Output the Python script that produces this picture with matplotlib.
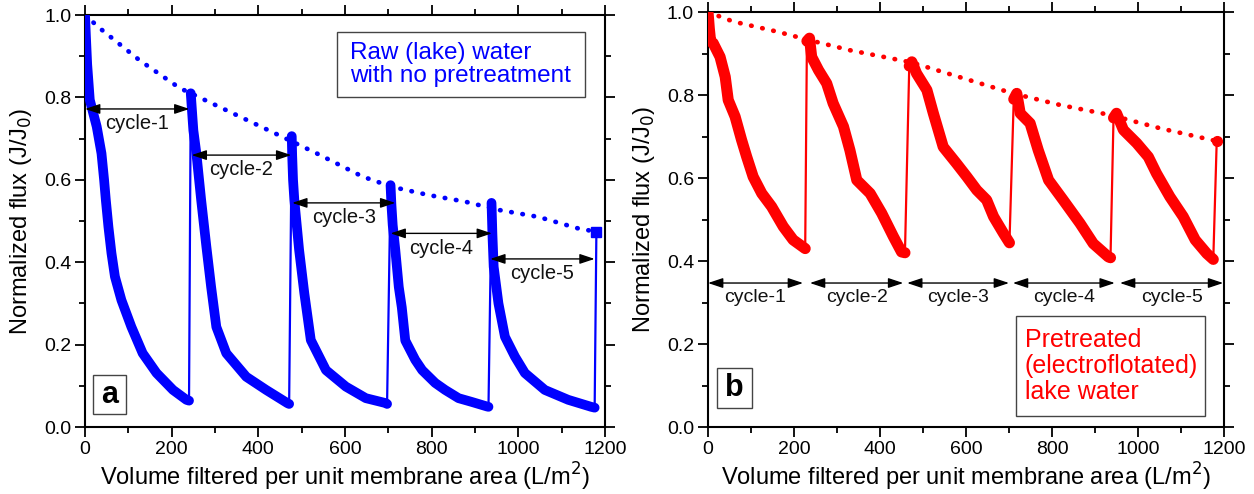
import matplotlib
matplotlib.use("Agg")
from matplotlib import pyplot as plt
from matplotlib.patches import Rectangle
from matplotlib.ticker import MultipleLocator, FormatStrFormatter

plt.rcParams['font.family'] = ['Liberation Sans', 'DejaVu Sans']

# panel a: raw lake water, five filtration cycles
a_x = [
    [0, 2, 5, 11, 27, 38, 44, 48, 54, 61, 69, 84, 107, 133, 165, 203, 234, 240],
    [244, 246, 250, 257, 268, 280, 291, 303, 326, 372, 418, 467, 471],
    [477, 478, 480, 483, 494, 506, 521, 556, 602, 648, 694, 697],
    [705, 707, 710, 716, 724, 731, 739, 762, 778, 808, 831, 862, 892, 927, 931],
    [938, 940, 943, 954, 969, 992, 1015, 1061, 1115, 1168, 1176],
]
a_y = [
    [1.0, 0.95, 0.88, 0.794, 0.729, 0.664, 0.60, 0.551, 0.486, 0.422, 0.365, 0.308, 0.243, 0.179, 0.131, 0.090, 0.066, 0.064],
    [0.81, 0.78, 0.72, 0.664, 0.551, 0.438, 0.34, 0.243, 0.179, 0.122, 0.09, 0.058, 0.056],
    [0.706, 0.66, 0.60, 0.551, 0.43, 0.325, 0.211, 0.138, 0.098, 0.07, 0.058, 0.056],
    [0.587, 0.54, 0.49, 0.43, 0.34, 0.29, 0.21, 0.163, 0.138, 0.107, 0.09, 0.07, 0.061, 0.05, 0.049],
    [0.544, 0.47, 0.389, 0.30, 0.219, 0.171, 0.131, 0.09, 0.066, 0.049, 0.047],
]
a_last = (1180, 0.474)
a_env_x = [0, 34, 126, 218, 326, 432, 533, 640, 708, 793, 877, 954, 1046, 1138, 1180]
a_env_y = [1.0, 0.968, 0.89, 0.823, 0.769, 0.716, 0.665, 0.608, 0.583, 0.563, 0.547, 0.527, 0.51, 0.482, 0.474]
a_arrow_y = [0.772, 0.66, 0.544, 0.47, 0.408]
a_arrow_x0 = [0, 246, 478, 705, 935]
a_arrow_x1 = [241, 476, 716, 939, 1176]

# panel b: electroflotated lake water
b_x = [
    [0, 3, 6, 12, 28, 40, 47, 63, 78, 90, 105, 125, 148, 175, 198, 222, 226],
    [230, 236, 241, 257, 276, 291, 315, 330, 346, 377, 404, 431, 450, 458],
    [468, 474, 485, 509, 524, 547, 578, 602, 625, 648, 664, 687, 701],
    [711, 718, 726, 749, 768, 792, 826, 865, 896, 931, 936],
    [943, 950, 966, 997, 1024, 1043, 1074, 1105, 1133, 1160, 1175],
]
b_y = [
    [1.0, 0.96, 0.93, 0.925, 0.892, 0.844, 0.788, 0.748, 0.692, 0.651, 0.603, 0.563, 0.531, 0.483, 0.451, 0.433, 0.43],
    [0.93, 0.937, 0.892, 0.86, 0.828, 0.78, 0.724, 0.667, 0.595, 0.563, 0.515, 0.459, 0.422, 0.42],
    [0.87, 0.88, 0.852, 0.812, 0.756, 0.675, 0.635, 0.603, 0.571, 0.547, 0.507, 0.467, 0.444],
    [0.79, 0.804, 0.756, 0.732, 0.667, 0.595, 0.547, 0.491, 0.442, 0.41, 0.408],
    [0.745, 0.756, 0.716, 0.684, 0.651, 0.611, 0.555, 0.507, 0.451, 0.418, 0.404],
]
b_last = (1183, 0.689)
b_env_x = [0, 59, 160, 233, 330, 447, 475, 570, 709, 819, 935, 1051, 1183]
b_env_y = [1.0, 0.977, 0.953, 0.933, 0.908, 0.884, 0.878, 0.848, 0.804, 0.776, 0.752, 0.72, 0.689]
b_arrow_y = [0.347, 0.347, 0.347, 0.347, 0.347]
b_arrow_x0 = [0, 237, 463, 709, 958]
b_arrow_x1 = [221, 454, 700, 946, 1198]

cycle_labels = ['cycle-1', 'cycle-2', 'cycle-3', 'cycle-4', 'cycle-5']


def style_axes(ax):
    ax.set_xlim(0, 1200)
    ax.set_ylim(0, 1.0)
    ax.xaxis.set_major_locator(MultipleLocator(200))
    ax.xaxis.set_minor_locator(MultipleLocator(100))
    ax.yaxis.set_major_locator(MultipleLocator(0.2))
    ax.yaxis.set_minor_locator(MultipleLocator(0.1))
    ax.yaxis.set_major_formatter(FormatStrFormatter('%.1f'))
    ax.tick_params(which='both', direction='out', top=True, right=True, width=1.3, colors='black')
    ax.tick_params(which='major', length=7, labelsize=14, pad=3)
    ax.tick_params(which='minor', length=4)
    for s in ax.spines.values():
        s.set_linewidth(1.5)
    ax.set_xlabel('Volume filtered per unit membrane area (L/m$^2$)', fontsize=17, labelpad=2)
    ax.set_ylabel('Normalized flux (J/J$_0$)', fontsize=17, labelpad=7)


def draw_panel(ax, xs, ys, last, env_x, env_y, color, lw, last_marker):
    all_x = [v for c in xs for v in c] + [last[0]]
    all_y = [v for c in ys for v in c] + [last[1]]
    ax.plot(all_x, all_y, color=color, lw=1.6, zorder=2)
    for cx, cy in zip(xs, ys):
        ax.plot(cx, cy, color=color, lw=lw, solid_capstyle='round', solid_joinstyle='round', zorder=3)
    ax.plot([last[0]], [last[1]], marker=last_marker, color=color, ms=7, zorder=3)
    ax.plot(env_x, env_y, color=color, lw=3.4, linestyle=(0, (0.1, 2.3)),
            dash_capstyle='round', zorder=3)


def draw_arrows(ax, x0s, x1s, ys, dy, fs):
    for x0, x1, y, lab in zip(x0s, x1s, ys, cycle_labels):
        ax.annotate('', xy=(x1, y), xytext=(x0, y),
                    arrowprops=dict(arrowstyle='<|-|>,head_length=0.9,head_width=0.3',
                                    color='black', lw=1.0, shrinkA=0, shrinkB=0),
                    zorder=4)
        ax.text((x0 + x1) / 2, y - dy, lab, fontsize=fs, ha='center', va='center', color='#111111')


def text_box(ax, x0, y0, x1, y1, tx, ty, txt, color, fs, weight='normal', ha='left'):
    ax.add_patch(Rectangle((x0, y0), x1 - x0, y1 - y0, transform=ax.transAxes,
                           fill=True, facecolor='white', edgecolor='#444444', lw=1.0, zorder=5))
    ax.text(tx, ty, txt, transform=ax.transAxes, color=color, fontsize=fs, fontweight=weight,
            ha=ha, va='center', linespacing=1.1, zorder=6)


fig = plt.figure(figsize=(12.54, 4.94), dpi=100)
ax1 = fig.add_axes([0.0678, 0.1356, 0.4147, 0.834])
ax2 = fig.add_axes([0.5646, 0.1356, 0.4115, 0.840])

draw_panel(ax1, a_x, a_y, a_last, a_env_x, a_env_y, '#0000FF', 7, 's')
draw_arrows(ax1, a_arrow_x0, a_arrow_x1, a_arrow_y, 0.036, 14.5)
style_axes(ax1)
text_box(ax1, 0.4846, 0.801, 0.9615, 0.9587, 0.51, 0.88,
         'Raw (lake) water\nwith no pretreatment', '#0000FF', 17.5)
text_box(ax1, 0.0154, 0.0316, 0.0788, 0.126, 0.047, 0.078, 'a', 'black', 22, 'bold', 'center')

draw_panel(ax2, b_x, b_y, b_last, b_env_x, b_env_y, '#FF0000', 8, 'o')
draw_arrows(ax2, b_arrow_x0, b_arrow_x1, b_arrow_y, 0.036, 14)
style_axes(ax2)
text_box(ax2, 0.597, 0.0265, 0.963, 0.267, 0.614, 0.147,
         'Pretreated\n(electroflotated)\nlake water', '#FF0000', 18)
text_box(ax2, 0.0168, 0.045, 0.0847, 0.143, 0.051, 0.094, 'b', 'black', 22, 'bold', 'center')

fig.savefig('out.png', dpi=100)
